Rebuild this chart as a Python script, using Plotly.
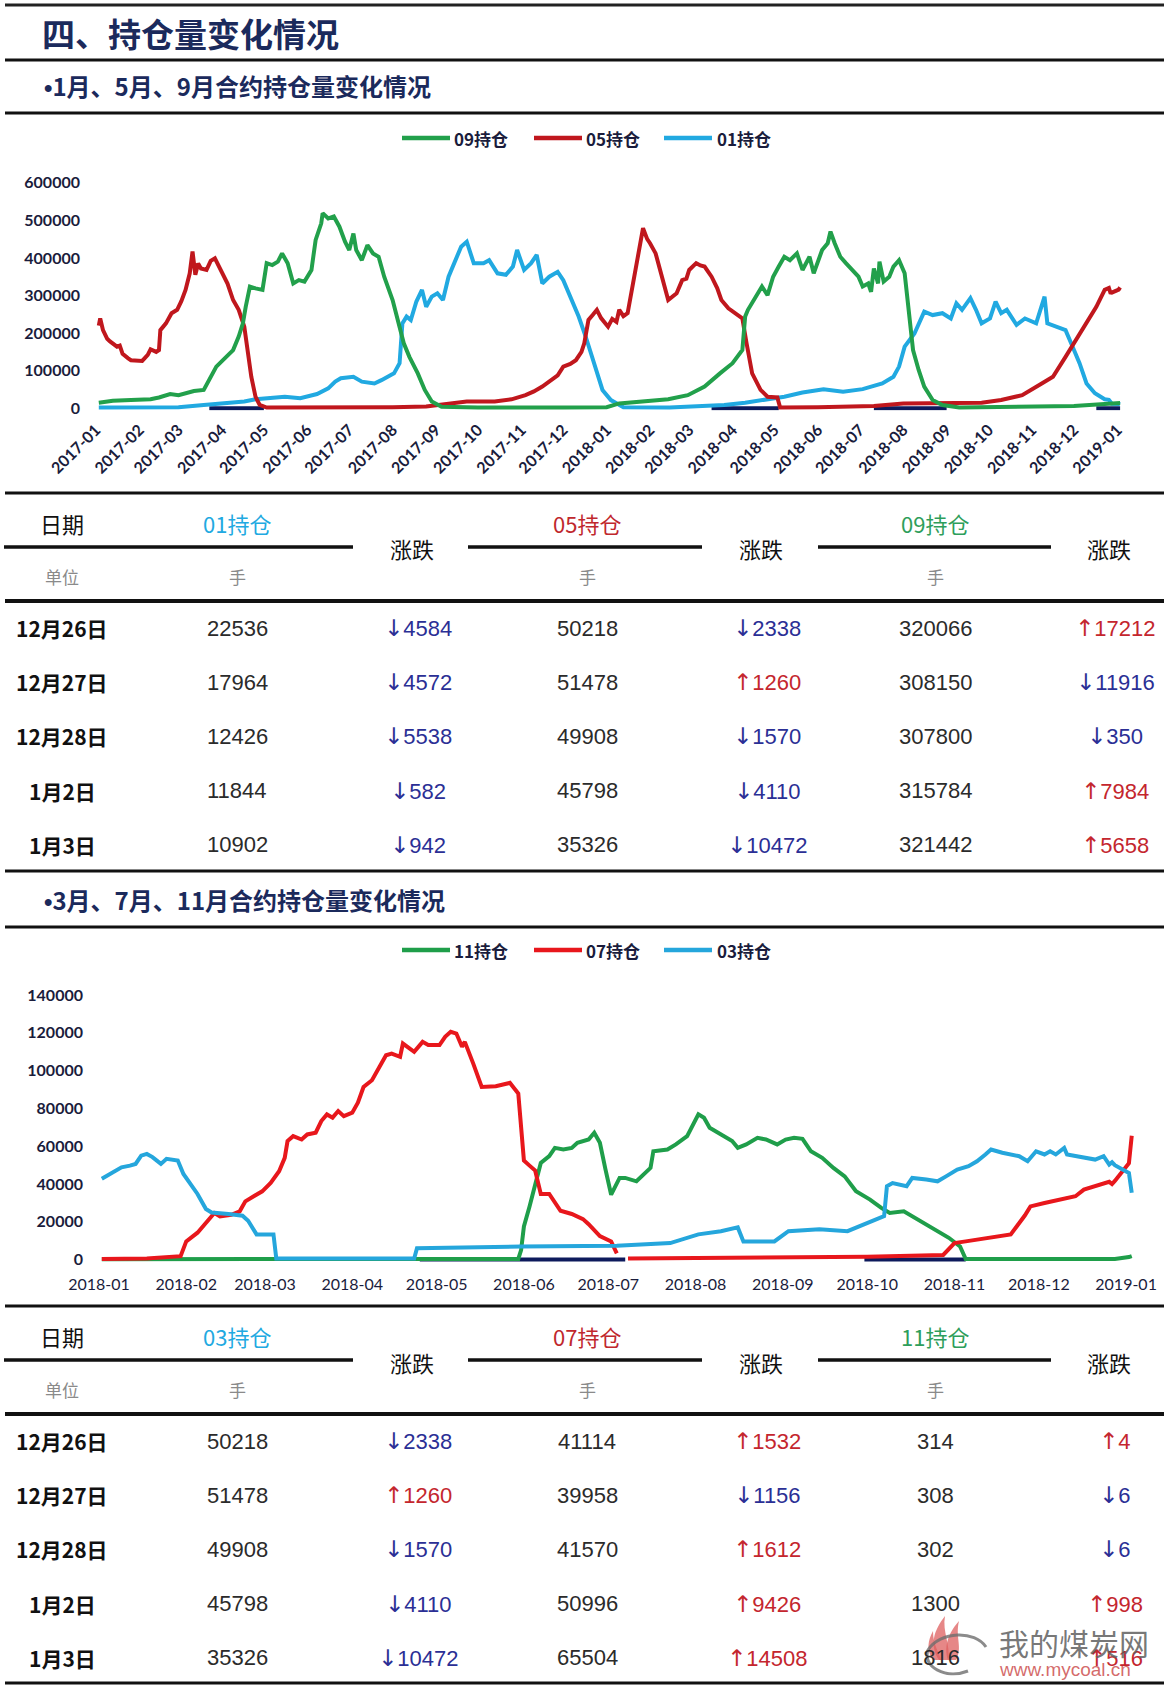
import plotly.graph_objects as go

W, H = 1169, 1687


def px(x):
    return x / W


def py(y):
    return 1 - y / H


# ---------------- Chart 1 data (1月、5月、9月合约) ----------------
c1_g_dates = ["2017-01-03", "2017-01-13", "2017-01-26", "2017-02-09", "2017-02-15", "2017-02-23", "2017-03-01",
              "2017-03-12", "2017-03-19", "2017-03-23", "2017-03-28", "2017-04-03", "2017-04-09", "2017-04-13",
              "2017-04-16", "2017-04-18", "2017-04-21", "2017-04-25", "2017-04-30", "2017-05-03", "2017-05-07",
              "2017-05-11", "2017-05-14", "2017-05-18", "2017-05-22", "2017-05-26", "2017-05-30", "2017-06-04",
              "2017-06-07", "2017-06-11", "2017-06-12", "2017-06-16", "2017-06-20", "2017-06-24", "2017-06-28",
              "2017-07-01", "2017-07-04", "2017-07-06", "2017-07-10", "2017-07-14", "2017-07-18", "2017-07-22",
              "2017-07-26", "2017-08-01", "2017-08-05", "2017-08-09", "2017-08-13", "2017-08-19", "2017-08-24",
              "2017-08-29", "2017-09-05", "2017-10-01", "2017-12-01", "2018-01-01", "2018-01-10", "2018-01-30",
              "2018-02-14", "2018-02-28", "2018-03-12", "2018-03-23", "2018-04-01", "2018-04-08", "2018-04-10",
              "2018-04-12", "2018-04-18", "2018-04-22", "2018-04-26", "2018-04-30", "2018-05-04", "2018-05-08",
              "2018-05-12", "2018-05-17", "2018-05-21", "2018-05-26", "2018-05-29", "2018-06-04", "2018-06-08",
              "2018-06-10", "2018-06-13", "2018-06-17", "2018-06-21", "2018-06-26", "2018-06-30", "2018-07-03",
              "2018-07-07", "2018-07-09", "2018-07-11", "2018-07-14", "2018-07-15", "2018-07-18", "2018-07-22",
              "2018-07-25", "2018-07-29", "2018-08-02", "2018-08-05", "2018-08-08", "2018-08-12", "2018-08-16",
              "2018-08-22", "2018-08-29", "2018-09-10", "2018-11-01", "2018-12-01", "2019-01-03"]
c1_g_vals = [15000, 20000, 22000, 24000, 29000, 38000, 35000,
             46000, 49000, 75000, 111000, 133000, 155000, 191000,
             226000, 270000, 324000, 319000, 315000, 386000, 381000,
             390000, 412000, 386000, 332000, 341000, 337000, 368000,
             448000, 492000, 519000, 505000, 510000, 483000, 443000,
             421000, 465000, 421000, 394000, 434000, 412000, 403000,
             350000, 288000, 235000, 173000, 137000, 93000, 49000,
             18000, 4000, 2000, 2000, 3000, 13000, 18000,
             24000, 35000, 58000, 93000, 120000, 155000, 244000,
             262000, 297000, 324000, 301000, 350000, 377000, 403000,
             394000, 412000, 368000, 403000, 359000, 421000, 439000,
             470000, 439000, 403000, 386000, 368000, 350000, 324000,
             332000, 310000, 372000, 332000, 390000, 337000, 350000,
             377000, 394000, 359000, 253000, 155000, 102000, 58000,
             22000, 9000, 2000, 3000, 6000, 14000]

c1_r_dates = ["2017-01-03", "2017-01-04", "2017-01-06", "2017-01-09", "2017-01-11", "2017-01-13", "2017-01-16",
              "2017-01-18", "2017-01-20", "2017-01-24", "2017-01-26", "2017-02-03", "2017-02-07", "2017-02-09",
              "2017-02-13", "2017-02-15", "2017-02-16", "2017-02-20", "2017-02-22", "2017-02-24", "2017-02-28",
              "2017-03-03", "2017-03-06", "2017-03-09", "2017-03-11", "2017-03-13", "2017-03-15", "2017-03-17",
              "2017-03-21", "2017-03-24", "2017-03-27", "2017-03-29", "2017-03-31", "2017-04-05", "2017-04-09",
              "2017-04-13", "2017-04-17", "2017-04-20", "2017-04-22", "2017-04-25", "2017-04-28", "2017-05-03",
              "2017-06-01", "2017-07-01", "2017-08-01", "2017-08-25", "2017-09-04", "2017-09-15", "2017-09-23",
              "2017-10-13", "2017-10-25", "2017-11-04", "2017-11-10", "2017-11-16", "2017-11-22", "2017-11-27",
              "2017-12-01", "2017-12-06", "2017-12-10", "2017-12-14", "2017-12-16", "2017-12-19", "2017-12-22",
              "2017-12-25", "2017-12-28", "2018-01-02", "2018-01-05", "2018-01-08", "2018-01-10", "2018-01-13",
              "2018-01-16", "2018-01-20", "2018-01-24", "2018-01-27", "2018-01-30", "2018-02-01", "2018-02-05",
              "2018-02-08", "2018-02-10", "2018-02-14", "2018-02-20", "2018-02-24", "2018-02-27", "2018-03-01",
              "2018-03-06", "2018-03-09", "2018-03-12", "2018-03-17", "2018-03-21", "2018-03-24", "2018-03-29",
              "2018-04-04", "2018-04-08", "2018-04-11", "2018-04-15", "2018-04-21", "2018-04-26", "2018-05-03",
              "2018-05-05", "2018-06-01", "2018-07-11", "2018-08-01", "2018-08-28", "2018-09-26", "2018-10-10",
              "2018-10-25", "2018-11-08", "2018-11-16", "2018-11-25", "2018-12-01", "2018-12-09", "2018-12-17",
              "2018-12-23", "2018-12-26", "2018-12-27", "2018-12-28", "2019-01-02", "2019-01-03"]
c1_r_vals = [220000, 239000, 208000, 185000, 178000, 173000, 164000,
             167000, 145000, 133000, 128000, 126000, 142000, 157000,
             150000, 155000, 208000, 226000, 240000, 253000, 262000,
             285000, 315000, 359000, 417000, 355000, 385000, 372000,
             368000, 392000, 399000, 385000, 368000, 332000, 288000,
             262000, 217000, 128000, 84000, 31000, 9000, 2000,
             1500, 2000, 3000, 5000, 9000, 14000, 18000,
             18000, 24000, 35000, 45000, 58000, 75000, 88000,
             111000, 118000, 128000, 150000, 173000, 235000, 248000,
             262000, 240000, 217000, 238000, 230000, 262000, 245000,
             253000, 332000, 420000, 479000, 450000, 439000, 412000,
             370000, 341000, 288000, 306000, 341000, 345000, 368000,
             386000, 380000, 377000, 350000, 320000, 288000, 266000,
             248000, 239000, 173000, 93000, 49000, 31000, 29000,
             2000, 3000, 6000, 13000, 13000, 15000, 22000,
             35000, 66000, 84000, 137000, 173000, 226000, 270000,
             315000, 320066, 308150, 307800, 315784, 321442]

c1_c_dates = ["2017-01-03", "2017-03-01", "2017-03-19", "2017-04-03", "2017-04-17", "2017-04-25", "2017-05-06",
              "2017-05-16", "2017-05-27", "2017-06-08", "2017-06-16", "2017-06-21", "2017-06-25", "2017-07-04",
              "2017-07-10", "2017-07-19", "2017-07-24", "2017-08-02", "2017-08-06", "2017-08-08", "2017-08-11",
              "2017-08-14", "2017-08-18", "2017-08-22", "2017-08-25", "2017-08-29", "2017-09-02", "2017-09-06",
              "2017-09-10", "2017-09-15", "2017-09-19", "2017-09-23", "2017-09-28", "2017-10-05", "2017-10-09",
              "2017-10-15", "2017-10-21", "2017-10-26", "2017-10-29", "2017-11-03", "2017-11-08", "2017-11-12",
              "2017-11-16", "2017-11-21", "2017-11-27", "2017-12-01", "2017-12-06", "2017-12-12", "2017-12-17",
              "2017-12-23", "2017-12-29", "2018-01-04", "2018-01-09", "2018-01-13", "2018-02-15", "2018-03-26",
              "2018-04-10", "2018-04-24", "2018-05-08", "2018-05-21", "2018-06-05", "2018-06-19", "2018-07-03",
              "2018-07-17", "2018-07-25", "2018-07-29", "2018-08-02", "2018-08-09", "2018-08-16", "2018-08-22",
              "2018-08-29", "2018-09-04", "2018-09-08", "2018-09-12", "2018-09-18", "2018-09-22", "2018-09-26",
              "2018-10-02", "2018-10-06", "2018-10-10", "2018-10-14", "2018-10-21", "2018-10-27", "2018-11-04",
              "2018-11-10", "2018-11-12", "2018-11-19", "2018-11-25", "2018-11-29", "2018-12-05", "2018-12-10",
              "2018-12-16", "2018-12-23", "2018-12-26", "2018-12-27", "2018-12-28", "2019-01-02", "2019-01-03"]
c1_c_vals = [2000, 3000, 9000, 13000, 18000, 24000, 29000,
             31000, 27000, 38000, 53000, 71000, 80000, 84000,
             71000, 66000, 75000, 93000, 120000, 226000, 244000,
             235000, 284000, 315000, 270000, 297000, 306000, 288000,
             350000, 394000, 430000, 443000, 386000, 386000, 394000,
             359000, 355000, 377000, 421000, 368000, 386000, 408000,
             332000, 350000, 363000, 341000, 297000, 244000, 191000,
             120000, 49000, 22000, 13000, 3000, 2000, 9000,
             15000, 22000, 31000, 42000, 51000, 44000, 51000,
             66000, 84000, 111000, 164000, 199000, 257000, 248000,
             253000, 239000, 279000, 262000, 293000, 262000, 226000,
             239000, 284000, 253000, 262000, 222000, 239000, 226000,
             297000, 226000, 217000, 208000, 173000, 120000, 66000,
             40000, 24000, 22536, 17964, 12426, 11844, 10902]

c1_base_dates = ["2017-03-23", "2017-05-01", "2017-05-02", "2018-03-17", "2018-05-04", "2018-05-05",
                 "2018-07-11", "2018-09-01", "2018-09-02", "2018-12-17", "2019-01-03"]
c1_base_vals = [0, 0, None, 0, 0, None, 0, 0, None, 0, 0]

# ---------------- Chart 2 data (3月、7月、11月合约) ----------------
c2_g_dates = ["2018-01-02", "2018-05-30", "2018-05-31", "2018-06-01", "2018-06-03", "2018-06-05", "2018-06-07",
              "2018-06-10", "2018-06-12", "2018-06-15", "2018-06-18", "2018-06-20", "2018-06-24", "2018-06-26",
              "2018-06-28", "2018-06-30", "2018-07-02", "2018-07-05", "2018-07-07", "2018-07-11", "2018-07-16",
              "2018-07-17", "2018-07-22", "2018-07-25", "2018-07-29", "2018-08-02", "2018-08-04", "2018-08-06",
              "2018-08-10", "2018-08-14", "2018-08-16", "2018-08-19", "2018-08-23", "2018-08-26", "2018-08-30",
              "2018-09-02", "2018-09-05", "2018-09-08", "2018-09-11", "2018-09-15", "2018-09-19", "2018-09-23",
              "2018-09-27", "2018-10-02", "2018-10-06", "2018-10-09", "2018-10-14", "2018-10-17", "2018-10-20",
              "2018-10-25", "2018-10-30", "2018-11-03", "2018-11-05", "2018-12-26", "2018-12-27", "2018-12-28",
              "2019-01-02", "2019-01-03"]
c2_g_vals = [200, 300, 5000, 17500, 28100, 40500, 51100,
             54700, 59100, 58200, 59100, 61800, 63500, 67100,
             61800, 47600, 34300, 43200, 43200, 41400, 48500,
             57300, 58200, 60900, 65300, 76800, 75000, 69700,
             66200, 62700, 59100, 60900, 64400, 63500, 60900,
             63500, 64400, 63900, 57300, 53800, 48500, 44000,
             36100, 31700, 27300, 24600, 25500, 22800, 20500,
             16000, 11500, 6900, 300, 314, 308, 302,
             1300, 1816]

c2_r_dates = ["2018-01-02", "2018-01-18", "2018-01-30", "2018-02-01", "2018-02-05", "2018-02-08", "2018-02-11",
              "2018-02-13", "2018-02-17", "2018-02-20", "2018-02-22", "2018-02-25", "2018-02-28", "2018-03-03",
              "2018-03-06", "2018-03-08", "2018-03-09", "2018-03-11", "2018-03-14", "2018-03-16", "2018-03-19",
              "2018-03-21", "2018-03-23", "2018-03-25", "2018-03-27", "2018-03-29", "2018-04-01", "2018-04-03",
              "2018-04-05", "2018-04-08", "2018-04-10", "2018-04-13", "2018-04-15", "2018-04-18", "2018-04-19",
              "2018-04-23", "2018-04-26", "2018-04-28", "2018-05-02", "2018-05-04", "2018-05-06", "2018-05-08",
              "2018-05-10", "2018-05-11", "2018-05-14", "2018-05-17", "2018-05-22", "2018-05-27", "2018-05-30",
              "2018-06-01", "2018-06-03", "2018-06-05", "2018-06-07", "2018-06-10", "2018-06-14", "2018-06-18",
              "2018-06-22", "2018-06-24", "2018-06-28", "2018-07-02", "2018-07-04", "2018-07-06", "2018-07-08",
              "2018-10-01", "2018-10-28", "2018-11-01", "2018-11-05", "2018-11-16", "2018-11-21", "2018-11-26",
              "2018-11-28", "2018-12-03", "2018-12-09", "2018-12-14", "2018-12-17", "2018-12-21", "2018-12-24",
              "2018-12-26", "2018-12-27", "2018-12-28", "2019-01-02", "2019-01-03"]
c2_r_vals = [300, 500, 1800, 9600, 14200, 19300, 24600,
             22800, 23700, 25500, 30800, 33500, 36100, 40500,
             46700, 53800, 62700, 65300, 63500, 66200, 67100,
             73300, 76800, 75100, 78600, 75900, 77700, 83000,
             91300, 94900, 100200, 108100, 109000, 107300, 114300,
             109900, 115200, 113500, 113500, 117900, 120500, 119600,
             112600, 115200, 103700, 91300, 91700, 93500, 87800,
             52400, 49700, 47100, 34700, 34700, 25800, 24100,
             21400, 18700, 12400, 9600, 3300, None, 500,
             1500, 2400, 8700, 9600, 12400, 13300, 23300,
             28100, 29900, 31700, 33500, 37000, 38800, 40000,
             41114, 39958, 41570, 50996, 65504]

c2_c_dates = ["2018-01-02", "2018-01-04", "2018-01-06", "2018-01-09", "2018-01-12", "2018-01-14", "2018-01-16",
              "2018-01-18", "2018-01-20", "2018-01-23", "2018-01-25", "2018-01-29", "2018-01-31", "2018-02-03",
              "2018-02-05", "2018-02-08", "2018-02-10", "2018-02-16", "2018-02-21", "2018-02-23", "2018-02-26",
              "2018-03-04", "2018-03-05", "2018-04-23", "2018-04-24", "2018-05-31", "2018-07-04", "2018-07-23",
              "2018-08-02", "2018-08-10", "2018-08-16", "2018-08-18", "2018-08-29", "2018-09-03", "2018-09-14",
              "2018-09-24", "2018-10-02", "2018-10-07", "2018-10-08", "2018-10-10", "2018-10-15", "2018-10-17",
              "2018-10-22", "2018-10-26", "2018-10-29", "2018-11-02", "2018-11-06", "2018-11-09", "2018-11-12",
              "2018-11-14", "2018-11-18", "2018-11-21", "2018-11-24", "2018-11-27", "2018-11-30", "2018-12-03",
              "2018-12-05", "2018-12-07", "2018-12-10", "2018-12-11", "2018-12-14", "2018-12-18", "2018-12-21",
              "2018-12-24", "2018-12-26", "2018-12-27", "2018-12-28", "2019-01-02", "2019-01-03"]
c2_c_vals = [42700, 44400, 46200, 48800, 49700, 50600, 55000,
             55900, 54200, 50600, 53300, 52400, 45300, 39100,
             34700, 26700, 24900, 24100, 23200, 20500, 13300,
             13300, 500, 500, 6000, 6900, 7300, 8700,
             13300, 15000, 17000, 9600, 9600, 15000, 16000,
             15000, 19600, 23000, 38800, 40500, 38800, 43200,
             42300, 41400, 44000, 47600, 49400, 52000, 55600,
             58200, 56500, 55600, 54700, 52000, 57300, 55600,
             57300, 55600, 59100, 55600, 54700, 53800, 52900,
             54700, 50218, 51478, 49908, 45798, 35326]

c2_base_dates = ["2018-04-25", "2018-07-07", "2018-07-08", "2018-09-30", "2018-11-05"]
c2_base_vals = [0, 0, None, 0, 0]

# ---------------- Table data ----------------
row_dates = ["12月26日", "12月27日", "12月28日", "1月2日", "1月3日"]
t1_heads = ["01持仓", "05持仓", "09持仓"]
t1_c01 = [22536, 17964, 12426, 11844, 10902]
t1_c01_chg = [-4584, -4572, -5538, -582, -942]
t1_c05 = [50218, 51478, 49908, 45798, 35326]
t1_c05_chg = [-2338, 1260, -1570, -4110, -10472]
t1_c09 = [320066, 308150, 307800, 315784, 321442]
t1_c09_chg = [17212, -11916, -350, 7984, 5658]
t2_heads = ["03持仓", "07持仓", "11持仓"]
t2_c03 = [50218, 51478, 49908, 45798, 35326]
t2_c03_chg = [-2338, 1260, -1570, -4110, -10472]
t2_c07 = [41114, 39958, 41570, 50996, 65504]
t2_c07_chg = [1532, -1156, 1612, 9426, 14508]
t2_c11 = [314, 308, 302, 1300, 1816]
t2_c11_chg = [4, -6, -6, 998, 516]

# ---------------- styles ----------------
NAVY = "#1b2a5c"
AXIS_TXT = "#1a1c3c"
CJK = "Noto Sans CJK SC"
NUM = "Liberation Sans"
G1, R1, C1 = "#22a04b", "#c0171d", "#21a9e1"
G2, R2, C2 = "#1f9e4a", "#e8171c", "#25a6dc"
BASE = "#0d1a5c"
LW = 4

fig = go.Figure()


def add_line(x, y, color, name, xa, ya, width=LW):
    fig.add_trace(go.Scatter(x=x, y=y, mode="lines", name=name, showlegend=False,
                             line=dict(color=color, width=width), connectgaps=False,
                             xaxis=xa, yaxis=ya, hoverinfo="x+y+name"))


add_line(c1_base_dates, c1_base_vals, BASE, "base", "x", "y")
add_line(c1_c_dates, c1_c_vals, C1, "01持仓", "x", "y")
add_line(c1_r_dates, c1_r_vals, R1, "05持仓", "x", "y")
add_line(c1_g_dates, c1_g_vals, G1, "09持仓", "x", "y")

add_line(c2_base_dates, c2_base_vals, BASE, "base", "x2", "y2")
add_line(c2_g_dates, c2_g_vals, G2, "11持仓", "x2", "y2")
add_line(c2_r_dates, c2_r_vals, R2, "07持仓", "x2", "y2")
add_line(c2_c_dates, c2_c_vals, C2, "03持仓", "x2", "y2")

# axis geometry (pixels)
c1_x0, c1_x1 = 96, 1125
c1_y0, c1_y1 = 410.6, 182.7   # bottom (at -6000), top (600000)
c2_x0, c2_x1 = 99, 1141
c2_y0, c2_y1 = 1263.3, 995.0  # bottom (at -2000), top (140000)

fig.update_layout(
    width=W, height=H, margin=dict(l=0, r=0, t=0, b=0, autoexpand=False),
    paper_bgcolor="white", plot_bgcolor="white", showlegend=False,
    xaxis=dict(domain=[px(c1_x0), px(c1_x1)], anchor="y", type="date", automargin=False,
               range=["2017-01-01", "2019-01-06 12:00"], dtick="M1", tick0="2017-01-01",
               tickformat="%Y-%m", tickangle=-45, showgrid=False, zeroline=False, showline=False,
               ticks="", ticklabelstandoff=6,
               tickfont=dict(family="Lato", size=16, color=AXIS_TXT, weight="bold")),
    yaxis=dict(domain=[py(c1_y0), py(c1_y1)], anchor="x", range=[-6000, 600000], automargin=False,
               tickvals=[0, 100000, 200000, 300000, 400000, 500000, 600000], tickformat="d",
               showgrid=False, zeroline=False, showline=False, ticks="", ticklabelstandoff=15,
               tickfont=dict(family="Lato", size=16, color=AXIS_TXT, weight="bold")),
    xaxis2=dict(domain=[px(c2_x0), px(c2_x1)], anchor="y2", type="date", automargin=False,
                range=["2018-01-01", "2019-01-06 07:00"], dtick="M1", tick0="2018-01-01",
                tickformat="%Y-%m", tickangle=0, showgrid=False, zeroline=False, showline=False,
                ticks="", ticklabelstandoff=10,
                tickfont=dict(family="Lato", size=16, color=AXIS_TXT)),
    yaxis2=dict(domain=[py(c2_y0), py(c2_y1)], anchor="x2", range=[-2000, 140000], automargin=False,
                tickvals=[0, 20000, 40000, 60000, 80000, 100000, 120000, 140000], tickformat="d",
                showgrid=False, zeroline=False, showline=False, ticks="", ticklabelstandoff=15,
                tickfont=dict(family="Lato", size=16, color=AXIS_TXT, weight="bold")),
)

shapes = []
annos = []


def hline(y, x0=5, x1=1164, w=3, color="#111111"):
    shapes.append(dict(type="line", xref="paper", yref="paper", x0=px(x0), x1=px(x1),
                       y0=py(y), y1=py(y), line=dict(color=color, width=w)))


def text(x, y, s, size, color, family=CJK, bold=False, xanchor="center"):
    annos.append(dict(x=px(x), y=py(y), xref="paper", yref="paper", text=("<b>%s</b>" % s) if bold else s,
                      showarrow=False, xanchor=xanchor, yanchor="middle",
                      font=dict(family=family, size=size, color=color)))


BULLET = "<span style='font-family:Liberation Sans'>•</span>"

# title block
hline(5, w=3, color="#222222")
text(40, 33, "四、持仓量变化情况", 33, NAVY, bold=True, xanchor="left")
hline(60, w=3)
text(42, 85, BULLET + "1月、5月、9月合约持仓量变化情况", 24, NAVY, bold=True, xanchor="left")
hline(113, w=3)


def legend(y, items):
    for (lx0, lx1, tx, label, color) in items:
        shapes.append(dict(type="line", xref="paper", yref="paper", x0=px(lx0), x1=px(lx1),
                           y0=py(y), y1=py(y), line=dict(color=color, width=4.5)))
        text(tx, y, label, 17, AXIS_TXT, bold=True, xanchor="left")


legend(138, [(402, 450, 452, "09持仓", G1), (534, 582, 584, "05持仓", R1), (664, 712, 715, "01持仓", C1)])

ARROW = "<span style='font-family:DejaVu Sans;font-size:23px'>%s</span>"


def fmt_chg(v):
    if v >= 0:
        return (ARROW % "↑") + "%d" % v, "#c4262e"
    return (ARROW % "↓") + "%d" % (-v), "#2b2f95"


def table(y0, heads, head_colors, cols, chgs):
    hline(y0, w=3)
    hdr_y = y0 + 29.5
    text(62, hdr_y, "日期", 22, "#111111")
    val_x = [237, 587, 935]
    chg_x = [418, 767, 1115]
    zd_x = [412, 761, 1109]
    segs = [(4, 353), (468, 702), (818, 1051)]
    for i in range(3):
        text(val_x[i], hdr_y, heads[i], 22, head_colors[i])
        text(zd_x[i], y0 + 55.5, "涨跌", 22, "#111111")
        hline(y0 + 54, x0=segs[i][0], x1=segs[i][1], w=3.5)
        text(val_x[i], y0 + 83, "手", 17, "#8a8a8a")
    text(62, y0 + 83, "单位", 17, "#8a8a8a")
    hline(y0 + 108, w=4)
    for r in range(5):
        ry = y0 + 135 + 54.2 * r
        text(62, ry, row_dates[r], 21, "#111111", bold=True)
        for i in range(3):
            text(val_x[i], ry, str(cols[i][r]), 22, "#2b2b2b", family=NUM)
            s, c = fmt_chg(chgs[i][r])
            text(chg_x[i], ry, s, 22, c, family=NUM)


table(493, t1_heads, [C1, "#c0282d", "#2e9e5b"], [t1_c01, t1_c05, t1_c09], [t1_c01_chg, t1_c05_chg, t1_c09_chg])

hline(871, w=3)
text(42, 899, BULLET + "3月、7月、11月合约持仓量变化情况", 24, NAVY, bold=True, xanchor="left")
hline(927, w=3)
legend(950, [(402, 450, 452, "11持仓", G2), (534, 582, 584, "07持仓", R2), (664, 712, 715, "03持仓", C2)])

table(1306, t2_heads, [C1, "#c0282d", "#2e9e5b"], [t2_c03, t2_c07, t2_c11], [t2_c03_chg, t2_c07_chg, t2_c11_chg])
hline(1683, w=3)


# watermark logo (decoration) + text
def ppath(cmds):
    out = []
    for c in cmds:
        if isinstance(c, str):
            out.append(c)
        else:
            out.append("%.5f,%.5f" % (px(c[0]), py(c[1])))
    return " ".join(out)


flame_color = "rgba(222,95,95,0.75)"
for tongue in [
    ["M", (939, 1660), "C", (929, 1645), (934, 1630), (945, 1616), "C", (942, 1632), (951, 1645), (948, 1660), "Z"],
    ["M", (948, 1660), "C", (943, 1645), (950, 1631), (959, 1621), "C", (955, 1637), (963, 1648), (956, 1660), "Z"],
    ["M", (933, 1660), "C", (926, 1650), (928, 1640), (933, 1631), "C", (933, 1645), (939, 1652), (941, 1660), "Z"],
]:
    shapes.append(dict(type="path", xref="paper", yref="paper", path=ppath(tongue),
                       fillcolor=flame_color, line=dict(width=0)))
shapes.append(dict(type="path", xref="paper", yref="paper",
                   path=ppath(["M", (986, 1647), "C", (975, 1630), (940, 1631), (928, 1650),
                               "C", (922, 1666), (945, 1680), (968, 1671)]),
                   line=dict(color="rgba(110,110,110,0.8)", width=3)))

annos.append(dict(x=px(997), y=py(1642), xref="paper", yref="paper", text="我的煤炭网", showarrow=False,
                  xanchor="left", yanchor="middle", font=dict(family=CJK, size=30, color="rgba(95,95,95,0.85)")))
annos.append(dict(x=px(997), y=py(1669), xref="paper", yref="paper", text="www.mycoal.cn", showarrow=False,
                  xanchor="left", yanchor="middle", font=dict(family=NUM, size=19, color="rgba(205,80,80,0.85)")))

fig.update_layout(shapes=shapes, annotations=annos)

fig.write_html("out.html", config={"displayModeBar": False},
               post_script="document.body.style.margin='0';")
